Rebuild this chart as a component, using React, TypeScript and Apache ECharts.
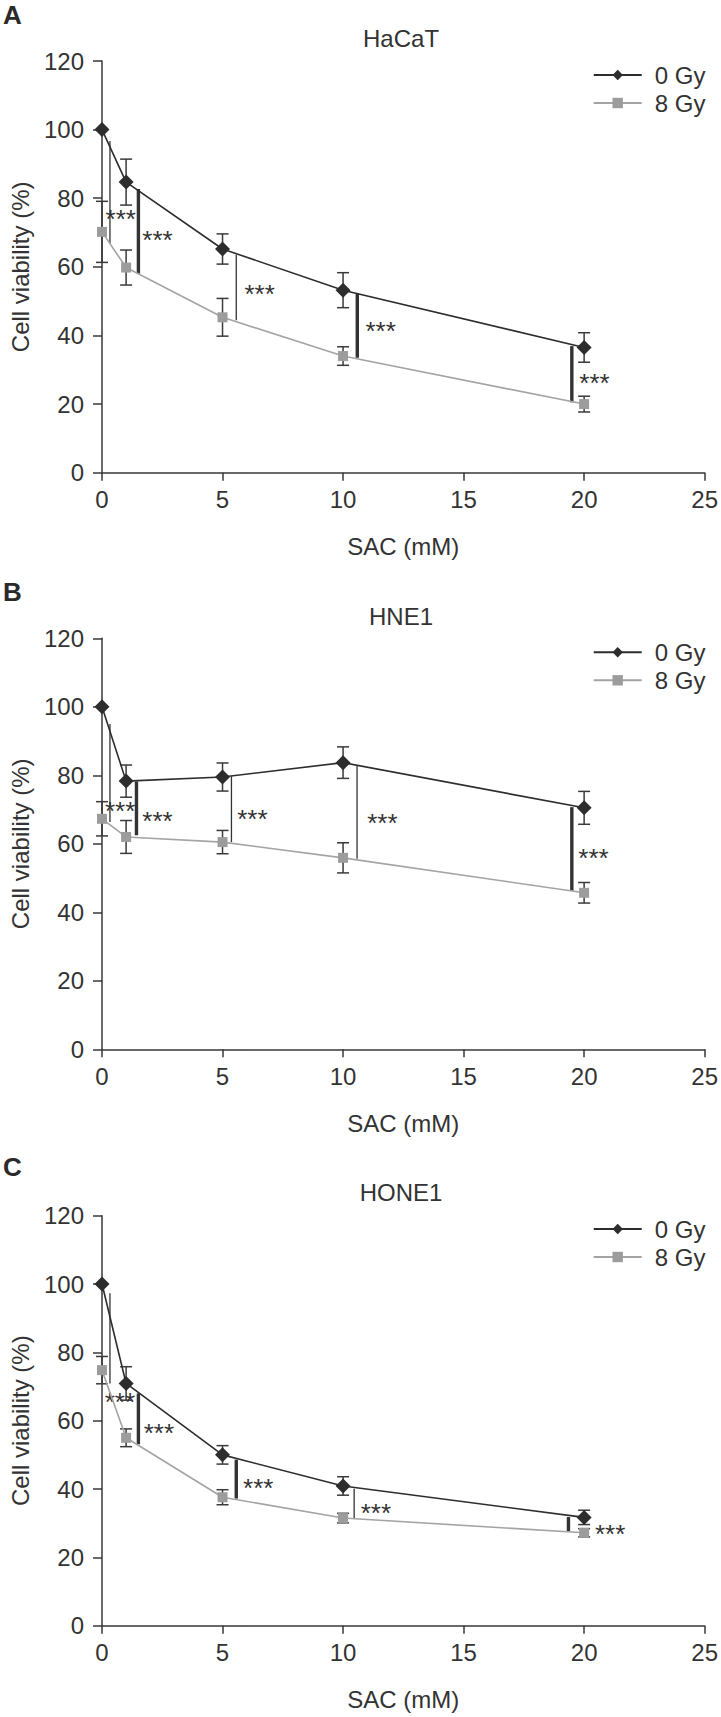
import React, { useEffect, useRef } from "react";
import * as echarts from "echarts";

// ---------- data ----------
const doses = [0, 1, 5, 10, 20]; // SAC (mM)
const xTicks = [0, 5, 10, 15, 20, 25];
const yTicks = [0, 20, 40, 60, 80, 100, 120];
const panelLetters = ["A", "B", "C"];
const cellLines = ["HaCaT", "HNE1", "HONE1"];
const seriesNames = ["0 Gy", "8 Gy"];

// HaCaT
const hacat0 = [100, 84.7, 65.2, 53.2, 36.5];
const hacat0Err = [0, 6.7, 4.4, 5.1, 4.3];
const hacat8 = [70.2, 59.8, 45.3, 34.0, 20.0];
const hacat8Err = [8.9, 5.1, 5.5, 2.7, 2.3];
// significance brackets (x, top, bottom) and label anchor (x, y)
const hacatSigX = [0.33, 1.51, 5.57, 10.59, 19.49];
const hacatSigTop = [96.7, 82.7, 63.5, 52.2, 36.9];
const hacatSigBottom = [66.9, 58.0, 44.4, 33.5, 20.5];
const hacatLabelX = [0.15, 1.67, 5.91, 10.93, 19.8];
const hacatLabelY = [75.8, 69.7, 54.0, 43.2, 28.1];

// HNE1
const hne0 = [100, 78.3, 79.5, 83.7, 70.5];
const hne0Err = [0, 4.7, 4.1, 4.6, 4.8];
const hne8 = [67.3, 62.0, 60.5, 55.9, 45.7];
const hne8Err = [5.0, 4.8, 3.4, 4.4, 3.0];
const hneSigX = [0.33, 1.43, 5.37, 10.58, 19.49];
const hneSigTop = [95.0, 78.2, 79.7, 83.0, 70.7];
const hneSigBottom = [66.4, 62.5, 60.5, 55.6, 46.3];
const hneLabelX = [0.12, 1.67, 5.61, 11.0, 19.76];
const hneLabelY = [71.5, 68.5, 69.0, 68.0, 57.7];

// HONE1
const hone0 = [100, 70.9, 50.0, 40.9, 31.7];
const hone0Err = [0, 4.9, 2.7, 2.7, 2.1];
const hone8 = [74.8, 55.0, 37.6, 31.5, 27.2];
const hone8Err = [4.0, 2.6, 2.2, 1.4, 1.2];
const honeSigX = [0.33, 1.51, 5.57, 10.46, 19.35];
const honeSigTop = [97.3, 68.0, 48.6, 40.1, 31.8];
const honeSigBottom = [70.9, 53.1, 37.2, 31.3, 27.7];
const honeLabelX = [0.11, 1.73, 5.85, 10.73, 20.45];
const honeLabelY = [67.5, 58.4, 42.2, 34.9, 28.7];

// ---------- styles ----------
const FONT = '"Liberation Sans", Arial, Helvetica, sans-serif';
const TEXT = "#333333";
const AXIS = "#383838";
const DARK = "#2d2d2d";
const GREY_LINE = "#a4a4a4";
const GREY_MARK = "#9c9c9c";
const THIN = 1.3;
const THICK = 3.4;
const sigWidths = [
  [THIN, THICK, THIN, THICK, THICK],
  [THIN, THICK, THIN, THIN, THICK],
  [THIN, THICK, THICK, THIN, THICK],
];

const panels = [
  { v0: hacat0, e0: hacat0Err, v8: hacat8, e8: hacat8Err, sx: hacatSigX, st: hacatSigTop, sb: hacatSigBottom, lx: hacatLabelX, ly: hacatLabelY },
  { v0: hne0, e0: hne0Err, v8: hne8, e8: hne8Err, sx: hneSigX, st: hneSigTop, sb: hneSigBottom, lx: hneLabelX, ly: hneLabelY },
  { v0: hone0, e0: hone0Err, v8: hone8, e8: hone8Err, sx: honeSigX, st: honeSigTop, sb: honeSigBottom, lx: honeLabelX, ly: honeLabelY },
];

// layout (pixels)
const GRID_LEFT = 95.3;
const GRID_WIDTH = 611.5;
const gridTops = [61, 638.3, 1215.7];
const gridHeights = [411.7, 411, 410];
const titleYs = [38, 616, 1192.7];
const letterYs = [15, 591.5, 1167];
const legendTops = [58, 635.3, 1212];

function errorRender(params: any, api: any) {
  const x = api.value(0);
  const lo = api.value(1);
  const hi = api.value(2);
  const a = api.coord([x, lo]);
  const b = api.coord([x, hi]);
  const hw = 6;
  const style = { stroke: "#3a3a3a", lineWidth: 1.5 };
  return {
    type: "group",
    children: [
      { type: "line", shape: { x1: a[0], y1: a[1], x2: b[0], y2: b[1] }, style },
      { type: "line", shape: { x1: a[0] - hw, y1: a[1], x2: a[0] + hw, y2: a[1] }, style },
      { type: "line", shape: { x1: b[0] - hw, y1: b[1], x2: b[0] + hw, y2: b[1] }, style },
    ],
  };
}

function makeSigRender(widths: number[]) {
  return (params: any, api: any) => {
    const i = params.dataIndex;
    const t = api.coord([api.value(0), api.value(1)]);
    const b = api.coord([api.value(0), api.value(2)]);
    const l = api.coord([api.value(3), api.value(4)]);
    return {
      type: "group",
      children: [
        {
          type: "line",
          shape: { x1: t[0], y1: t[1], x2: b[0], y2: b[1] },
          style: { stroke: "#333333", lineWidth: widths[i] },
        },
        {
          type: "text",
          x: l[0],
          y: l[1] + 6.5,
          style: {
            text: "***",
            fill: TEXT,
            fontSize: 26,
            fontFamily: FONT,
            align: "left",
            verticalAlign: "middle",
          },
        },
      ],
    };
  };
}

function buildOption() {
  const grid: any[] = [];
  const xAxis: any[] = [];
  const yAxis: any[] = [];
  const series: any[] = [];
  const legend: any[] = [];
  const graphic: any[] = [];

  panels.forEach((p, k) => {
    grid.push({ left: GRID_LEFT, top: gridTops[k], width: GRID_WIDTH, height: gridHeights[k] });
    xAxis.push({
      type: "value",
      gridIndex: k,
      min: xTicks[0],
      max: xTicks[xTicks.length - 1],
      interval: xTicks[1] - xTicks[0],
      name: "SAC (mM)",
      nameLocation: "middle",
      nameGap: 62,
      nameTextStyle: { fontSize: 24, color: TEXT, fontFamily: FONT },
      axisLine: { lineStyle: { color: AXIS, width: 1.5 } },
      axisTick: { length: 8, lineStyle: { color: AXIS, width: 1.5 } },
      axisLabel: { fontSize: 24, color: TEXT, fontFamily: FONT, margin: 15 },
      splitLine: { show: false },
    });
    yAxis.push({
      type: "value",
      gridIndex: k,
      min: yTicks[0],
      max: yTicks[yTicks.length - 1],
      interval: yTicks[1] - yTicks[0],
      name: "Cell viability (%)",
      nameLocation: "middle",
      nameGap: 70,
      nameTextStyle: { fontSize: 24, color: TEXT, fontFamily: FONT },
      axisLine: { show: true, lineStyle: { color: AXIS, width: 1.5 } },
      axisTick: { show: true, length: 9, lineStyle: { color: AXIS, width: 1.5 } },
      axisLabel: { fontSize: 24, color: TEXT, fontFamily: FONT, margin: 18 },
      splitLine: { show: false },
    });

    // significance brackets
    series.push({
      type: "custom",
      name: "sig" + k,
      xAxisIndex: k,
      yAxisIndex: k,
      z: 1,
      silent: true,
      clip: false,
      renderItem: makeSigRender(sigWidths[k]),
      encode: { x: [0, 3], y: [1, 2] },
      data: p.sx.map((x, i) => [x, p.st[i], p.sb[i], p.lx[i], p.ly[i]]),
    });
    // error bars
    const errData = (v: number[], e: number[]) =>
      doses.map((d, i) => [d, v[i] - e[i], v[i] + e[i]]).filter((r, i) => e[i] > 0);
    series.push({
      type: "custom",
      name: "err0_" + k,
      xAxisIndex: k,
      yAxisIndex: k,
      z: 2,
      silent: true,
      renderItem: errorRender,
      encode: { x: 0, y: [1, 2] },
      data: errData(p.v0, p.e0),
    });
    series.push({
      type: "custom",
      name: "err8_" + k,
      xAxisIndex: k,
      yAxisIndex: k,
      z: 2,
      silent: true,
      renderItem: errorRender,
      encode: { x: 0, y: [1, 2] },
      data: errData(p.v8, p.e8),
    });
    // lines
    series.push({
      type: "line",
      name: seriesNames[0],
      xAxisIndex: k,
      yAxisIndex: k,
      z: 4,
      data: doses.map((d, i) => [d, p.v0[i]]),
      symbol: "diamond",
      symbolSize: 15,
      showAllSymbol: true,
      lineStyle: { color: DARK, width: 1.6 },
      itemStyle: { color: DARK },
    });
    series.push({
      type: "line",
      name: seriesNames[1],
      xAxisIndex: k,
      yAxisIndex: k,
      z: 3,
      data: doses.map((d, i) => [d, p.v8[i]]),
      symbol: "rect",
      symbolSize: 10,
      showAllSymbol: true,
      lineStyle: { color: GREY_LINE, width: 1.6 },
      itemStyle: { color: GREY_MARK },
    });

    legend.push({
      data: seriesNames,
      orient: "vertical",
      left: 587.7,
      top: legendTops[k],
      itemWidth: 48,
      itemHeight: 13,
      itemGap: 4,
      selectedMode: false,
      textStyle: { fontSize: 24, color: TEXT, fontFamily: FONT, padding: [0, 0, 0, 8] },
    });

    graphic.push({
      type: "text",
      x: 3,
      y: letterYs[k],
      style: {
        text: panelLetters[k],
        fill: "#2a2a2a",
        fontSize: 26,
        fontWeight: "bold",
        fontFamily: FONT,
        align: "left",
        verticalAlign: "middle",
      },
    });
    graphic.push({
      type: "text",
      x: GRID_LEFT + GRID_WIDTH / 2,
      y: titleYs[k],
      style: {
        text: cellLines[k],
        fill: TEXT,
        fontSize: 24,
        fontFamily: FONT,
        align: "center",
        verticalAlign: "middle",
      },
    });
  });

  return {
    animation: false,
    backgroundColor: "#ffffff",
    textStyle: { fontFamily: FONT },
    grid,
    xAxis,
    yAxis,
    legend,
    graphic,
    series,
  };
}

export default function App() {
  const ref = useRef<HTMLDivElement>(null);
  useEffect(() => {
    if (!ref.current) return;
    const chart = echarts.init(ref.current, undefined, { renderer: "svg" });
    chart.setOption(buildOption() as any);
    return () => chart.dispose();
  }, []);
  return (
    <div
      ref={ref}
      style={{ position: "absolute", left: 0, top: 0, width: 721, height: 1717, background: "#fff" }}
    />
  );
}
